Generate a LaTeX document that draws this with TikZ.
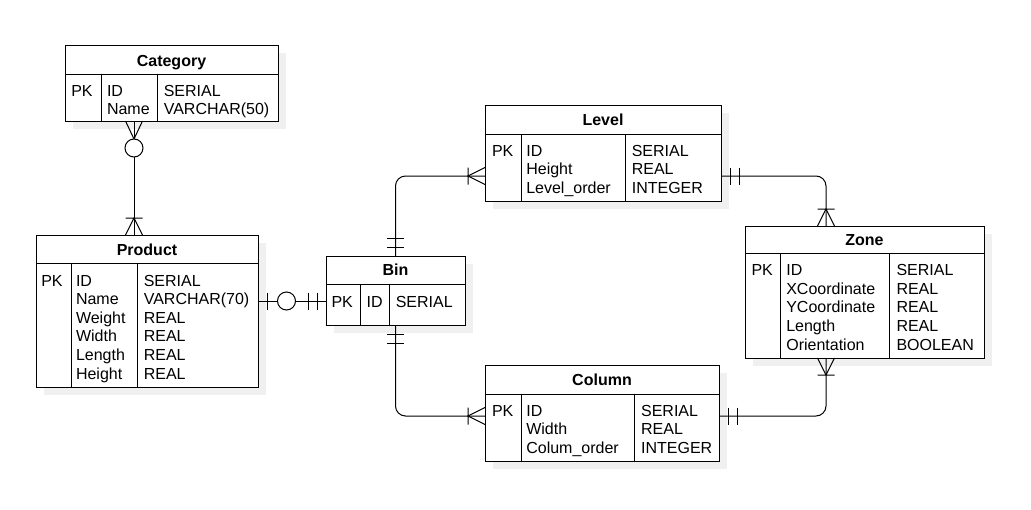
\documentclass[tikz,border=0pt]{standalone}
\usepackage{fontspec}
\setmainfont{Liberation Sans}
\usetikzlibrary{calc,shadows,decorations.markings}

\tikzset{
  entity/.style={draw, fill=white, anchor=north west, inner sep=0pt, outer sep=0pt,
    drop shadow={shadow xshift=8pt, shadow yshift=-8pt, fill=black!6, opacity=1}},
  title/.style={anchor=base, inner sep=0pt, font=\fontsize{16}{18.6}\selectfont\bfseries},
  field/.style={anchor=base west, inner sep=0pt, font=\fontsize{16}{18.6}\selectfont},
  er/.style={rounded corners=10pt},
  one many end/.style={postaction={decorate, decoration={markings,
    mark=at position 1 with {\draw[sharp corners] (0,-8.5) -- (-17,0) -- (0,8.5) (-17,-8.5) -- (-17,8.5);}}}},
  zero many start/.style={postaction={decorate, decoration={markings,
    mark=at position 0 with {\draw[sharp corners] (0,-8.5) -- (18,0) -- (0,8.5); \draw[fill=white] (27,0) circle[radius=9pt];}}}},
  zero one start/.style={postaction={decorate, decoration={markings,
    mark=at position 0 with {\draw (9,-8.5) -- (9,8.5); \draw[fill=white] (28.5,0) circle[radius=9pt];}}}},
  one one start/.style={postaction={decorate, decoration={markings,
    mark=at position 0 with {\draw (9,-8.5) -- (9,8.5) (18,-8.5) -- (18,8.5);}}}},
  one one end/.style={postaction={decorate, decoration={markings,
    mark=at position 1 with {\draw (-9,-8.5) -- (-9,8.5) (-18,-8.5) -- (-18,8.5);}}}}
}

\begin{document}
\begin{tikzpicture}[x=1pt, y=-1pt, line width=1pt]
\useasboundingbox (0,0) rectangle (1031,509);

% Category
\node[entity, minimum width=213pt, minimum height=76pt] (category) at (65,45) {};
\draw (65,74) -- (278,74) (101,74) -- (101,121) (157,74) -- (157,121);
\node[title] (category-title) at (171.5,66) {Category};
\node[field] (category-pk) at (70.8,96) {PK};
\foreach \n/\t [count=\i from 0] in {ID/SERIAL, Name/VARCHAR(50)} {
  \node[field] (category-n\i) at (106.5,{96+18.6*\i}) {\n};
  \node[field] (category-t\i) at (163.3,{96+18.6*\i}) {\t};
}

% Product
\node[entity, minimum width=222pt, minimum height=152pt] (product) at (36,235) {};
\draw (36,263) -- (258,263) (71,263) -- (71,387) (137,263) -- (137,387);
\node[title] (product-title) at (147,255.7) {Product};
\node[field] (product-pk) at (40.8,286) {PK};
\foreach \n/\t [count=\i from 0] in {ID/SERIAL, Name/VARCHAR(70), Weight/REAL, Width/REAL, Length/REAL, Height/REAL} {
  \node[field] (product-n\i) at (75.5,{286+18.6*\i}) {\n};
  \node[field] (product-t\i) at (143.3,{286+18.6*\i}) {\t};
}

% Bin
\node[entity, minimum width=139pt, minimum height=69pt] (bin) at (326,256) {};
\draw (326,284) -- (465,284) (360,284) -- (360,325) (389,284) -- (389,325);
\node[title] (bin-title) at (395.5,275.7) {Bin};
\node[field] (bin-pk) at (331,307.7) {PK};
\node[field] (bin-n0) at (366.2,307.7) {ID};
\node[field] (bin-t0) at (395.3,307.7) {SERIAL};

% Level
\node[entity, minimum width=236pt, minimum height=96pt] (level) at (485,105) {};
\draw (485,134) -- (721,134) (521,134) -- (521,201) (625,134) -- (625,201);
\node[title] (level-title) at (603,125.7) {Level};
\node[field] (level-pk) at (491.5,156) {PK};
\foreach \n/\t [count=\i from 0] in {ID/SERIAL, Height/REAL, Level\_order/INTEGER} {
  \node[field] (level-n\i) at (525.8,{156+18.8*\i}) {\n};
  \node[field] (level-t\i) at (631.3,{156+18.8*\i}) {\t};
}

% Zone
\node[entity, minimum width=239pt, minimum height=132pt] (zone) at (745,226) {};
\draw (745,253) -- (984,253) (780,253) -- (780,358) (889,253) -- (889,358);
\node[title] (zone-title) at (864.5,245) {Zone};
\node[field] (zone-pk) at (751,275.7) {PK};
\foreach \n/\t [count=\i from 0] in {ID/SERIAL, XCoordinate/REAL, YCoordinate/REAL, Length/REAL, Orientation/BOOLEAN} {
  \node[field] (zone-n\i) at (785.8,{275.7+18.6*\i}) {\n};
  \node[field] (zone-t\i) at (896,{275.7+18.6*\i}) {\t};
}

% Column
\node[entity, minimum width=234pt, minimum height=96pt] (column) at (485,365) {};
\draw (485,394) -- (719,394) (521,394) -- (521,461) (634,394) -- (634,461);
\node[title] (column-title) at (602,385.7) {Column};
\node[field] (column-pk) at (491.5,416) {PK};
\foreach \n/\t [count=\i from 0] in {ID/SERIAL, Width/REAL, Colum\_order/INTEGER} {
  \node[field] (column-n\i) at (525.8,{416+18.8*\i}) {\n};
  \node[field] (column-t\i) at (640.6,{416+18.8*\i}) {\t};
}

% relations
\draw[er, zero many start, one many end] ($(category.south west)+(69,0)$) -- ($(product.north west)+(98,0)$);
\draw[er, zero one start, one one end] ($(product.north east)+(0,66)$) -- ($(bin.west |- product.north east)+(0,66)$);
\draw[er, one one start, one many end] (bin.north) |- ($(level.north west)+(0,71)$);
\draw[er, one one start, one many end] (bin.south) |- ($(column.north west)+(0,51)$);
\draw[er, one one start, one many end] ($(level.north east)+(0,71)$) -| ($(zone.north west)+(81,0)$);
\draw[er, one one start, one many end] ($(column.north east)+(0,51)$) -| ($(zone.south west)+(81,0)$);
\end{tikzpicture}
\end{document}
